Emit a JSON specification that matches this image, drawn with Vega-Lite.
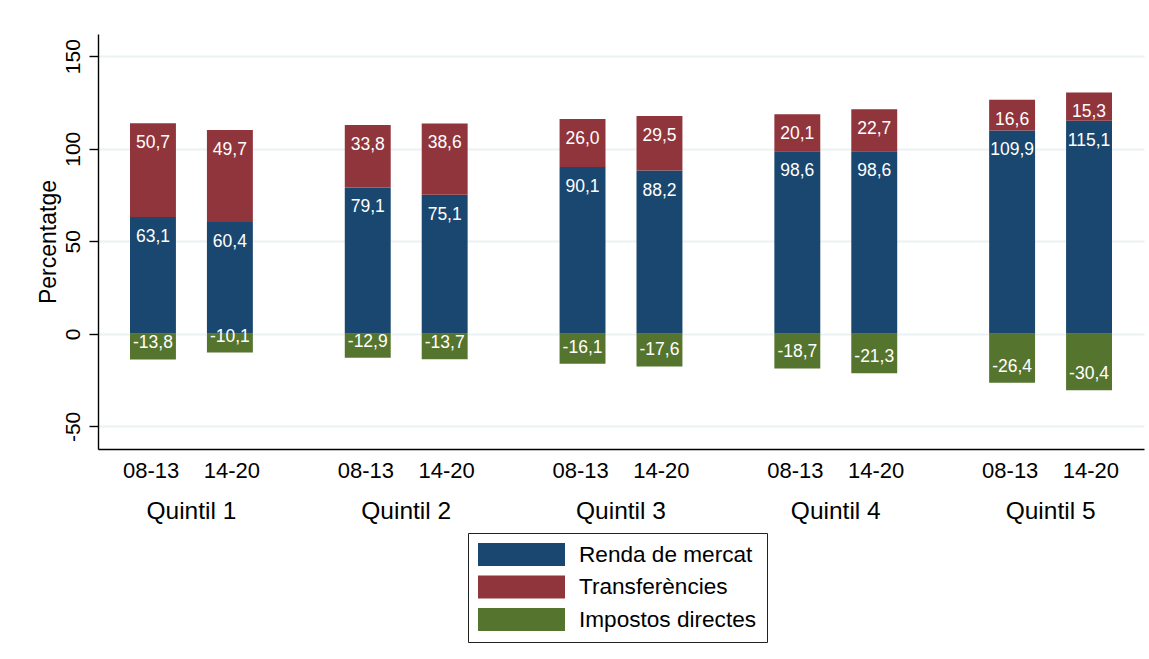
{
  "$schema": "https://vega.github.io/schema/vega-lite/v6.json",
  "autosize": {"type": "none"},
  "padding": {"left": 98, "top": 34, "right": 5, "bottom": 210},
  "width": 1046,
  "height": 415,
  "background": "white",
  "config": {
    "font": "Liberation Sans",
    "view": {"stroke": null},
    "legend": {"strokeColor": "#222"},
    "locale": {"number": {"decimal": ",", "thousands": ".", "grouping": [3], "currency": ["", " €"], "minus": "-"}}
  },
  "data": {
    "values": [
      {"q": "Quintil 1", "p": "08-13", "c": "Renda de mercat", "k": 1, "v": 63.1},
      {"q": "Quintil 1", "p": "08-13", "c": "Transferències", "k": 2, "v": 50.7},
      {"q": "Quintil 1", "p": "08-13", "c": "Impostos directes", "k": 3, "v": -13.8},
      {"q": "Quintil 1", "p": "14-20", "c": "Renda de mercat", "k": 1, "v": 60.4},
      {"q": "Quintil 1", "p": "14-20", "c": "Transferències", "k": 2, "v": 49.7},
      {"q": "Quintil 1", "p": "14-20", "c": "Impostos directes", "k": 3, "v": -10.1},
      {"q": "Quintil 2", "p": "08-13", "c": "Renda de mercat", "k": 1, "v": 79.1},
      {"q": "Quintil 2", "p": "08-13", "c": "Transferències", "k": 2, "v": 33.8},
      {"q": "Quintil 2", "p": "08-13", "c": "Impostos directes", "k": 3, "v": -12.9},
      {"q": "Quintil 2", "p": "14-20", "c": "Renda de mercat", "k": 1, "v": 75.1},
      {"q": "Quintil 2", "p": "14-20", "c": "Transferències", "k": 2, "v": 38.6},
      {"q": "Quintil 2", "p": "14-20", "c": "Impostos directes", "k": 3, "v": -13.7},
      {"q": "Quintil 3", "p": "08-13", "c": "Renda de mercat", "k": 1, "v": 90.1},
      {"q": "Quintil 3", "p": "08-13", "c": "Transferències", "k": 2, "v": 26.0},
      {"q": "Quintil 3", "p": "08-13", "c": "Impostos directes", "k": 3, "v": -16.1},
      {"q": "Quintil 3", "p": "14-20", "c": "Renda de mercat", "k": 1, "v": 88.2},
      {"q": "Quintil 3", "p": "14-20", "c": "Transferències", "k": 2, "v": 29.5},
      {"q": "Quintil 3", "p": "14-20", "c": "Impostos directes", "k": 3, "v": -17.6},
      {"q": "Quintil 4", "p": "08-13", "c": "Renda de mercat", "k": 1, "v": 98.6},
      {"q": "Quintil 4", "p": "08-13", "c": "Transferències", "k": 2, "v": 20.1},
      {"q": "Quintil 4", "p": "08-13", "c": "Impostos directes", "k": 3, "v": -18.7},
      {"q": "Quintil 4", "p": "14-20", "c": "Renda de mercat", "k": 1, "v": 98.6},
      {"q": "Quintil 4", "p": "14-20", "c": "Transferències", "k": 2, "v": 22.7},
      {"q": "Quintil 4", "p": "14-20", "c": "Impostos directes", "k": 3, "v": -21.3},
      {"q": "Quintil 5", "p": "08-13", "c": "Renda de mercat", "k": 1, "v": 109.9},
      {"q": "Quintil 5", "p": "08-13", "c": "Transferències", "k": 2, "v": 16.6},
      {"q": "Quintil 5", "p": "08-13", "c": "Impostos directes", "k": 3, "v": -26.4},
      {"q": "Quintil 5", "p": "14-20", "c": "Renda de mercat", "k": 1, "v": 115.1},
      {"q": "Quintil 5", "p": "14-20", "c": "Transferències", "k": 2, "v": 15.3},
      {"q": "Quintil 5", "p": "14-20", "c": "Impostos directes", "k": 3, "v": -30.4}
    ]
  },
  "resolve": {"scale": {"x": "shared"}, "axis": {"x": "independent"}},
  "encoding": {
    "xOffset": {
      "field": "p", "type": "nominal",
      "scale": {"paddingInner": 0.403, "paddingOuter": 0.416}
    },
    "y": {
      "field": "v", "type": "quantitative", "stack": "zero",
      "scale": {"domain": [-62.2, 162], "nice": false, "zero": false},
      "axis": {
        "title": "Percentatge", "values": [-50, 0, 50, 100, 150],
        "grid": true, "gridColor": "#eaf2f3", "gridWidth": 2,
        "domainColor": "black", "domainWidth": 1.4,
        "tickColor": "black", "tickWidth": 1.4, "tickSize": 9,
        "labelFontSize": 21, "labelColor": "black", "labelAngle": -90,
        "labelAlign": "center", "labelBaseline": "alphabetic", "labelPadding": 10,
        "titleFontSize": 23, "titleFontWeight": "normal", "titleColor": "black", "titlePadding": 2
      }
    },
    "order": {"field": "k", "type": "quantitative"}
  },
  "layer": [
    {
      "mark": {"type": "bar", "strokeWidth": 0},
      "encoding": {
        "x": {
          "field": "q", "type": "nominal",
          "scale": {"paddingInner": 0.13, "paddingOuter": 0},
          "axis": {
            "orient": "bottom",
            "title": null, "labelAngle": 0, "ticks": false, "grid": false,
            "domainColor": "black", "domainWidth": 1.4,
            "labelFontSize": 22, "labelColor": "black",
            "labelBaseline": "top", "labelPadding": 11,
            "labelExpr": "'08-13\u00a0\u00a0\u00a0\u00a014-20'"
          }
        },
        "color": {
          "field": "c", "type": "nominal",
          "scale": {
            "domain": ["Renda de mercat", "Transferències", "Impostos directes"],
            "range": ["#1a476f", "#90353b", "#55752f"]
          },
          "legend": {
            "title": null, "orient": "none", "legendX": 370, "legendY": 499,
            "direction": "vertical",
            "symbolType": "M-1,-1H6.565V1H-1Z", "symbolSize": 529,
            "symbolStrokeWidth": 0, "symbolOpacity": 1,
            "labelFontSize": 22.6, "labelColor": "black", "labelOffset": 78,
            "rowPadding": 8.5, "padding": 10,
            "strokeColor": "#222", "labelLimit": 400
          }
        }
      }
    },
    {
      "transform": [{"filter": "datum.v > 0"}],
      "mark": {"type": "text", "color": "white", "fontSize": 17.5, "baseline": "middle", "dy": 20},
      "encoding": {
        "x": {
          "field": "q", "type": "nominal",
          "axis": {
            "orient": "bottom",
            "title": null, "labelAngle": 0, "ticks": false, "domain": false, "grid": false,
            "labelFontSize": 24.5, "labelColor": "black",
            "labelBaseline": "top", "labelPadding": 50
          }
        },
        "text": {"field": "v", "type": "quantitative", "format": ".1f"}
      }
    },
    {
      "transform": [{"filter": "datum.v < 0"}],
      "mark": {"type": "text", "color": "white", "fontSize": 17.5, "baseline": "middle", "dy": -16},
      "encoding": {
        "x": {"field": "q", "type": "nominal", "axis": null},
        "text": {"field": "v", "type": "quantitative", "format": ".1f"}
      }
    }
  ]
}
